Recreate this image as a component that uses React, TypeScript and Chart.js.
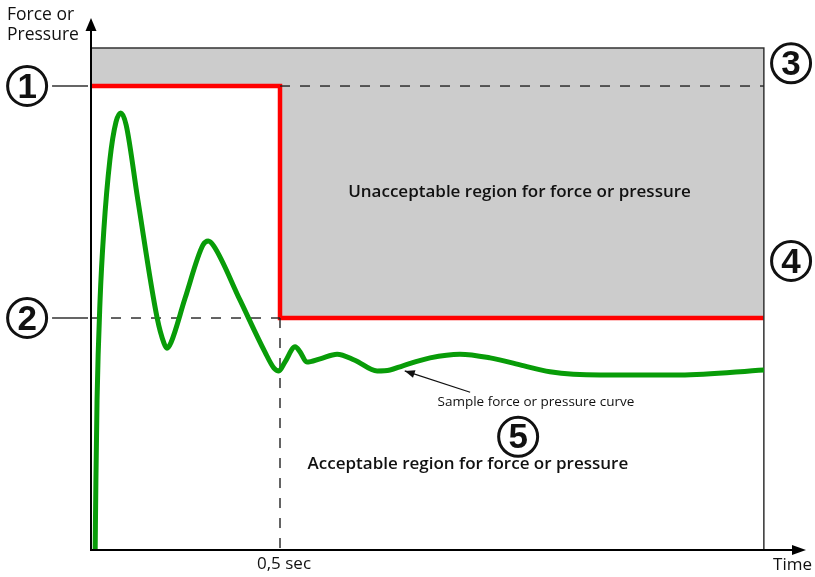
import React, { useEffect, useRef } from 'react';
import { Chart, registerables } from 'chart.js';

Chart.register(...registerables);

// ---- data (time in seconds, force/pressure in arbitrary % units) ----
const CURVE_T = [
  0.011, 0.013, 0.016, 0.024, 0.034, 0.050, 0.066, 0.079, 0.093, 0.124,
  0.175, 0.193, 0.201, 0.212, 0.249, 0.296, 0.310, 0.325, 0.394, 0.460,
  0.484, 0.497, 0.513, 0.540, 0.553, 0.571, 0.606, 0.651, 0.698, 0.757,
  0.791, 0.825, 0.897, 0.976, 1.056, 1.135, 1.214, 1.347, 1.558, 1.780,
];
const CURVE_F = [
  0, 15.1, 32.3, 53.9, 69.0, 84.1, 92.2, 94.2, 91.6, 75.4,
  50.0, 44.6, 43.5, 44.8, 54.3, 65.7, 66.6, 65.5, 53.9, 42.7,
  39.2, 38.6, 40.5, 43.8, 42.7, 40.5, 41.2, 42.2, 40.9, 38.6,
  38.8, 39.7, 41.4, 42.2, 41.4, 39.9, 38.4, 37.7, 37.7, 38.8,
];
const LIMIT_T = [0, 0.5, 0.5, 1.78];
const LIMIT_F = [100, 100, 50, 50];
const LEVEL_1 = 100;
const LEVEL_2 = 50;
const T_SWITCH = 0.5;
const T_END = 1.78;
const REGION_TOP = 108.2;
const X_MAX = 1.8915;
const Y_MAX = 114.66;
const TICK_LABELS = ['0,5 sec'];
const AXIS_X_TITLE = 'Time';
const AXIS_Y_TITLE = ['Force or', 'Pressure'];
const LABEL_UNACCEPTABLE = 'Unacceptable region for force or pressure';
const LABEL_ACCEPTABLE = 'Acceptable region for force or pressure';
const LABEL_SAMPLE = 'Sample force or pressure curve';
const MARKERS = ['1', '2', '3', '4', '5'];

const pts = (xs: number[], ys: number[]) => xs.map((x, i) => ({ x, y: ys[i] }));

const decorPlugin = {
  id: 'decor',
  afterDatasetsDraw(chart: any) {
    const ctx: CanvasRenderingContext2D = chart.ctx;
    const xs = chart.scales.x;
    const ys = chart.scales.y;
    const px = (v: number) => xs.getPixelForValue(v);
    const py = (v: number) => ys.getPixelForValue(v);
    const x0 = px(0), y0 = py(0);
    const xEnd = px(X_MAX), yTop = py(Y_MAX);
    ctx.save();

    // axes
    ctx.strokeStyle = '#000';
    ctx.fillStyle = '#000';
    ctx.lineWidth = 2;
    ctx.beginPath();
    ctx.moveTo(x0, y0 + 1);
    ctx.lineTo(x0, yTop + 8);
    ctx.moveTo(x0 - 1, y0);
    ctx.lineTo(xEnd - 8, y0);
    ctx.stroke();
    // arrow heads
    ctx.beginPath();
    ctx.moveTo(x0, yTop);
    ctx.lineTo(x0 - 5.5, yTop + 13);
    ctx.lineTo(x0 + 5.5, yTop + 13);
    ctx.closePath();
    ctx.fill();
    ctx.beginPath();
    ctx.moveTo(xEnd, y0);
    ctx.lineTo(xEnd - 14, y0 - 5);
    ctx.lineTo(xEnd - 14, y0 + 5);
    ctx.closePath();
    ctx.fill();

    // connector lines from markers to axis
    ctx.strokeStyle = '#333';
    ctx.lineWidth = 1.3;
    ctx.beginPath();
    ctx.moveTo(px(-0.103), py(LEVEL_1));
    ctx.lineTo(x0 - 3, py(LEVEL_1));
    ctx.moveTo(px(-0.103), py(LEVEL_2));
    ctx.lineTo(x0 - 3, py(LEVEL_2));
    ctx.stroke();

    // annotation arrow
    const ax1 = px(1.003), ay1 = py(34.0);
    const ax2 = px(0.830), ay2 = py(38.6);
    ctx.strokeStyle = '#111';
    ctx.lineWidth = 1.3;
    ctx.beginPath();
    ctx.moveTo(ax1, ay1);
    ctx.lineTo(ax2, ay2);
    ctx.stroke();
    const ang = Math.atan2(ay2 - ay1, ax2 - ax1);
    ctx.fillStyle = '#111';
    ctx.beginPath();
    ctx.moveTo(ax2, ay2);
    ctx.lineTo(ax2 - 10 * Math.cos(ang) + 4 * Math.sin(ang), ay2 - 10 * Math.sin(ang) - 4 * Math.cos(ang));
    ctx.lineTo(ax2 - 10 * Math.cos(ang) - 4 * Math.sin(ang), ay2 - 10 * Math.sin(ang) + 4 * Math.cos(ang));
    ctx.closePath();
    ctx.fill();

    // texts
    ctx.fillStyle = '#111';
    ctx.textBaseline = 'middle';
    ctx.font = '17.5px "Open Sans", sans-serif';
    ctx.textAlign = 'left';
    ctx.fillText(AXIS_Y_TITLE[0], 7, 15);
    ctx.fillText(AXIS_Y_TITLE[1], 7, 35);
    ctx.font = '17px "Open Sans", sans-serif';
    ctx.textAlign = 'right';
    ctx.fillText(AXIS_X_TITLE, 812, 565);
    ctx.textAlign = 'center';
    ctx.fillText(TICK_LABELS[0], px(T_SWITCH) + 4, 564);

    ctx.font = '600 17px "Open Sans", sans-serif';
    ctx.fillText(LABEL_UNACCEPTABLE, px(1.1336), py(77.2));
    ctx.fillText(LABEL_ACCEPTABLE, px(0.997), py(18.5));
    ctx.font = '13.5px "Open Sans", sans-serif';
    ctx.fillText(LABEL_SAMPLE, px(1.177), py(31.9));

    // circled markers
    const circles: [number, number][] = [
      [-0.169, LEVEL_1],
      [-0.169, LEVEL_2],
      [1.852, 104.9],
      [1.852, 62.3],
      [1.13, 24.4],
    ];
    circles.forEach(([cx, cy], i) => {
      const X = px(cx), Y = py(cy);
      ctx.strokeStyle = '#111';
      ctx.lineWidth = 3;
      ctx.beginPath();
      ctx.arc(X, Y, 19.5, 0, Math.PI * 2);
      ctx.stroke();
      ctx.fillStyle = '#111';
      ctx.font = 'bold 35px "Liberation Sans", Arial, sans-serif';
      ctx.textAlign = 'center';
      ctx.textBaseline = 'middle';
      ctx.fillText(MARKERS[i], X, Y + 2);
    });
    ctx.restore();
  },
};

export default function App() {
  const ref = useRef<HTMLCanvasElement>(null);
  useEffect(() => {
    if (!ref.current) return;
    const chart = new Chart(ref.current, {
      type: 'line',
      data: {
        datasets: [
          {
            label: 'Sample curve',
            data: pts(CURVE_T, CURVE_F),
            borderColor: '#089c08',
            borderWidth: 5,
            pointRadius: 0,
            cubicInterpolationMode: 'monotone',
            fill: false,
            order: 1,
          } as any,
          {
            label: 'Level 1',
            data: pts([T_SWITCH, T_END], [LEVEL_1, LEVEL_1]),
            borderColor: '#222',
            borderWidth: 1.4,
            borderDash: [10, 10],
            pointRadius: 0,
            fill: false,
            order: 2,
          },
          {
            label: 'Level 2',
            data: pts([0, T_SWITCH], [LEVEL_2, LEVEL_2]),
            borderColor: '#222',
            borderWidth: 1.4,
            borderDash: [10, 10],
            pointRadius: 0,
            fill: false,
            order: 2,
          },
          {
            label: 'Switch time',
            data: pts([T_SWITCH, T_SWITCH], [LEVEL_2, 0]),
            borderColor: '#222',
            borderWidth: 1.4,
            borderDash: [10, 10],
            pointRadius: 0,
            fill: false,
            order: 2,
          },
          {
            label: 'Region border',
            data: pts([0, T_END, T_END], [REGION_TOP, REGION_TOP, 0]),
            borderColor: '#333',
            borderWidth: 1.5,
            pointRadius: 0,
            fill: false,
            order: 3,
          },
          {
            label: 'Limit',
            data: pts(LIMIT_T, LIMIT_F),
            borderColor: '#ff0000',
            borderWidth: 4.5,
            pointRadius: 0,
            tension: 0,
            backgroundColor: '#cccccc',
            fill: { value: REGION_TOP },
            order: 4,
          },
        ],
      },
      options: {
        responsive: false,
        animation: false,
        layout: { padding: { left: 91, right: 9, top: 18, bottom: 27 } },
        scales: {
          x: { type: 'linear', min: 0, max: X_MAX, display: false },
          y: { type: 'linear', min: 0, max: Y_MAX, display: false },
        },
        plugins: {
          legend: { display: false },
          tooltip: { enabled: false },
        },
      },
      plugins: [decorPlugin],
    });
    return () => chart.destroy();
  }, []);
  return (
    <div style={{ position: 'fixed', left: 0, top: 0, width: 815, height: 577, background: '#fff' }}>
      <canvas ref={ref} width={815} height={577} />
    </div>
  );
}
